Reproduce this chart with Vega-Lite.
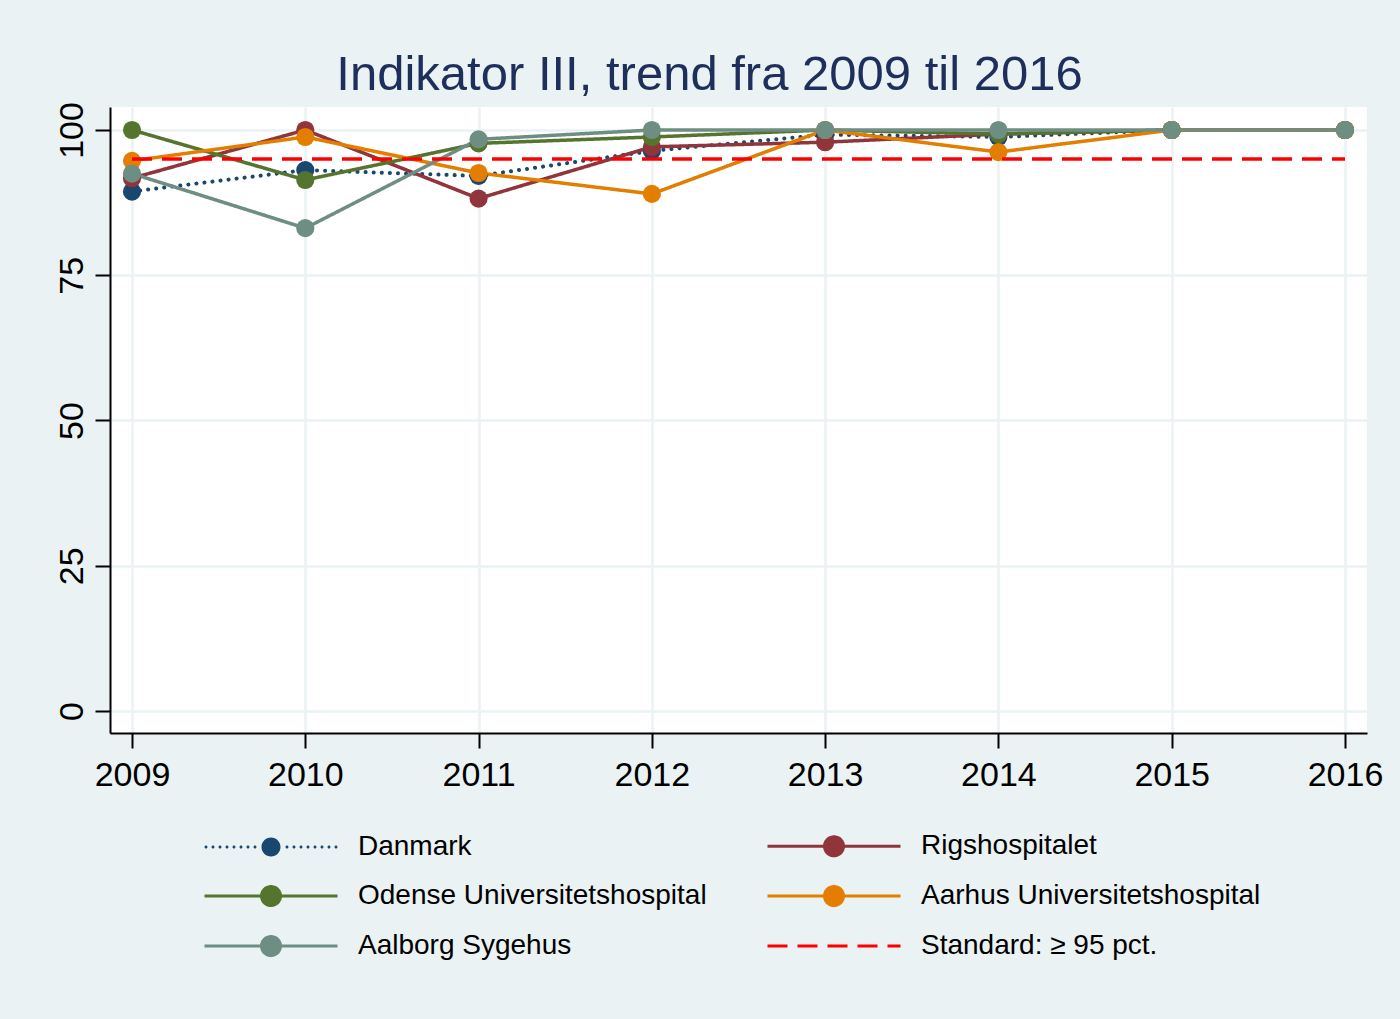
{
  "$schema": "https://vega.github.io/schema/vega-lite/v6.json",
  "width": 1257,
  "height": 626,
  "autosize": {"type": "none"},
  "padding": {"left": 110, "top": 107, "right": 33, "bottom": 286},
  "background": "#EAF2F3",
  "config": {
    "view": {"fill": "white", "stroke": null},
    "font": "Liberation Sans"
  },
  "title": {
    "text": "Indikator III, trend fra 2009 til 2016",
    "font": "Liberation Sans",
    "fontSize": 49,
    "fontWeight": "normal",
    "color": "#1f2f5c",
    "anchor": "middle",
    "dx": -29,
    "offset": 2
  },
  "data": {
    "values": [
      {"year": 2009, "pct": 89.4, "series": "Danmark"},
      {"year": 2010, "pct": 93.1, "series": "Danmark"},
      {"year": 2011, "pct": 92.1, "series": "Danmark"},
      {"year": 2012, "pct": 96.4, "series": "Danmark"},
      {"year": 2013, "pct": 99.2, "series": "Danmark"},
      {"year": 2014, "pct": 98.8, "series": "Danmark"},
      {"year": 2015, "pct": 100, "series": "Danmark"},
      {"year": 2016, "pct": 100, "series": "Danmark"},
      {"year": 2009, "pct": 91.7, "series": "Rigshospitalet"},
      {"year": 2010, "pct": 100, "series": "Rigshospitalet"},
      {"year": 2011, "pct": 88.2, "series": "Rigshospitalet"},
      {"year": 2012, "pct": 97.1, "series": "Rigshospitalet"},
      {"year": 2013, "pct": 97.9, "series": "Rigshospitalet"},
      {"year": 2014, "pct": 99.3, "series": "Rigshospitalet"},
      {"year": 2015, "pct": 100, "series": "Rigshospitalet"},
      {"year": 2016, "pct": 100, "series": "Rigshospitalet"},
      {"year": 2009, "pct": 100, "series": "Odense Universitetshospital"},
      {"year": 2010, "pct": 91.4, "series": "Odense Universitetshospital"},
      {"year": 2011, "pct": 97.7, "series": "Odense Universitetshospital"},
      {"year": 2012, "pct": 98.8, "series": "Odense Universitetshospital"},
      {"year": 2013, "pct": 100, "series": "Odense Universitetshospital"},
      {"year": 2014, "pct": 99.3, "series": "Odense Universitetshospital"},
      {"year": 2015, "pct": 100, "series": "Odense Universitetshospital"},
      {"year": 2016, "pct": 100, "series": "Odense Universitetshospital"},
      {"year": 2009, "pct": 94.7, "series": "Aarhus Universitetshospital"},
      {"year": 2010, "pct": 98.8, "series": "Aarhus Universitetshospital"},
      {"year": 2011, "pct": 92.6, "series": "Aarhus Universitetshospital"},
      {"year": 2012, "pct": 89.0, "series": "Aarhus Universitetshospital"},
      {"year": 2013, "pct": 100, "series": "Aarhus Universitetshospital"},
      {"year": 2014, "pct": 96.2, "series": "Aarhus Universitetshospital"},
      {"year": 2015, "pct": 100, "series": "Aarhus Universitetshospital"},
      {"year": 2016, "pct": 100, "series": "Aarhus Universitetshospital"},
      {"year": 2009, "pct": 92.5, "series": "Aalborg Sygehus"},
      {"year": 2010, "pct": 83.1, "series": "Aalborg Sygehus"},
      {"year": 2011, "pct": 98.4, "series": "Aalborg Sygehus"},
      {"year": 2012, "pct": 100, "series": "Aalborg Sygehus"},
      {"year": 2013, "pct": 100, "series": "Aalborg Sygehus"},
      {"year": 2014, "pct": 100, "series": "Aalborg Sygehus"},
      {"year": 2015, "pct": 100, "series": "Aalborg Sygehus"},
      {"year": 2016, "pct": 100, "series": "Aalborg Sygehus"},
      {"year": 2009, "pct": 95, "series": "Standard: ≥ 95 pct."},
      {"year": 2016, "pct": 95, "series": "Standard: ≥ 95 pct."}
    ]
  },
  "encoding": {
    "x": {
      "field": "year",
      "type": "quantitative",
      "scale": {"domain": [2008.873, 2016.127], "nice": false, "zero": false},
      "axis": {
        "title": null,
        "values": [2009, 2010, 2011, 2012, 2013, 2014, 2015, 2016],
        "format": "d",
        "labelFont": "Liberation Sans",
        "labelFontSize": 34,
        "labelColor": "black",
        "labelPadding": 10,
        "tickSize": 15,
        "tickWidth": 2,
        "tickColor": "black",
        "domainColor": "black",
        "domainWidth": 2,
        "grid": true,
        "gridColor": "#EAF2F3",
        "gridWidth": 2.5,
        "labelFlush": false,
        "labelOverlap": false
      }
    },
    "y": {
      "field": "pct",
      "type": "quantitative",
      "scale": {"domain": [-3.79, 103.96], "nice": false, "zero": false},
      "axis": {
        "title": null,
        "values": [0, 25, 50, 75, 100],
        "labelFont": "Liberation Sans",
        "labelFontSize": 34,
        "labelColor": "black",
        "labelAngle": 270,
        "labelAlign": "center",
        "labelBaseline": "alphabetic",
        "labelPadding": 13,
        "tickSize": 15,
        "tickWidth": 2,
        "tickColor": "black",
        "domainColor": "black",
        "domainWidth": 2,
        "grid": true,
        "gridColor": "#EAF2F3",
        "gridWidth": 2.5,
        "labelFlush": false,
        "labelOverlap": false
      }
    },
    "color": {
      "field": "series",
      "type": "nominal",
      "scale": {
        "domain": ["Danmark", "Odense Universitetshospital", "Aalborg Sygehus", "Rigshospitalet", "Aarhus Universitetshospital", "Standard: ≥ 95 pct."],
        "range": ["#1a476f", "#55752f", "#6e8e84", "#90353b", "#e37e00", "#ff0000"]
      },
      "legend": {
        "title": null,
        "orient": "none",
        "legendX": 147,
        "legendY": 725,
        "columns": 2,
        "columnPadding": 54,
        "rowPadding": 18,
        "padding": 0,
        "labelFont": "Liberation Sans",
        "labelFontSize": 28,
        "labelColor": "black",
        "labelOffset": 73,
        "labelLimit": 600,
        "symbolSize": 1600,
        "symbolStrokeWidth": 3,
        "symbolOpacity": 1,
        "encode": {
          "symbols": {
            "update": {
              "shape": {"signal": "datum.value === 'Standard: ≥ 95 pct.' ? 'M-3.325,0L3.325,0' : (datum.value === 'Danmark' ? 'M0.475,0A0.475,0.475,0,1,1,-0.475,0A0.475,0.475,0,1,1,0.475,0ZM-3.175,0A0.075,0.075,0,1,1,-3.325,0A0.075,0.075,0,1,1,-3.175,0ZM-2.825,0A0.075,0.075,0,1,1,-2.975,0A0.075,0.075,0,1,1,-2.825,0ZM-2.475,0A0.075,0.075,0,1,1,-2.625,0A0.075,0.075,0,1,1,-2.475,0ZM-2.125,0A0.075,0.075,0,1,1,-2.275,0A0.075,0.075,0,1,1,-2.125,0ZM-1.775,0A0.075,0.075,0,1,1,-1.925,0A0.075,0.075,0,1,1,-1.775,0ZM-1.425,0A0.075,0.075,0,1,1,-1.575,0A0.075,0.075,0,1,1,-1.425,0ZM-1.075,0A0.075,0.075,0,1,1,-1.225,0A0.075,0.075,0,1,1,-1.075,0ZM-0.725,0A0.075,0.075,0,1,1,-0.875,0A0.075,0.075,0,1,1,-0.725,0ZM0.875,0A0.075,0.075,0,1,1,0.725,0A0.075,0.075,0,1,1,0.875,0ZM1.225,0A0.075,0.075,0,1,1,1.075,0A0.075,0.075,0,1,1,1.225,0ZM1.575,0A0.075,0.075,0,1,1,1.425,0A0.075,0.075,0,1,1,1.575,0ZM1.925,0A0.075,0.075,0,1,1,1.775,0A0.075,0.075,0,1,1,1.925,0ZM2.275,0A0.075,0.075,0,1,1,2.125,0A0.075,0.075,0,1,1,2.275,0ZM2.625,0A0.075,0.075,0,1,1,2.475,0A0.075,0.075,0,1,1,2.625,0ZM2.975,0A0.075,0.075,0,1,1,2.825,0A0.075,0.075,0,1,1,2.975,0ZM3.325,0A0.075,0.075,0,1,1,3.175,0A0.075,0.075,0,1,1,3.325,0Z' : 'M-3.325,0L3.325,0M0.475,0A0.475,0.475,0,1,1,-0.475,0A0.475,0.475,0,1,1,0.475,0Z')"},
              "fill": {"scale": "color", "field": "value"},
              "stroke": {"scale": "color", "field": "value"},
              "strokeDash": {"signal": "datum.value === 'Standard: ≥ 95 pct.' ? [20,10] : [1,0]"},
              "strokeWidth": {"signal": "datum.value === 'Danmark' ? 0 : 3"},
              "opacity": {"value": 1},
              "fillOpacity": {"value": 1}
            }
          }
        }
      }
    }
  },
  "layer": [
    {
      "transform": [{"filter": "datum.series !== 'Standard: ≥ 95 pct.'"}],
      "mark": {"type": "line", "strokeCap": "round"},
      "encoding": {
        "strokeDash": {
          "field": "series",
          "type": "nominal",
          "scale": {
            "domain": ["Danmark", "Odense Universitetshospital", "Aalborg Sygehus", "Rigshospitalet", "Aarhus Universitetshospital", "Standard: ≥ 95 pct."],
            "range": [[0.1, 8], [1, 0], [1, 0], [1, 0], [1, 0], [20, 10]]
          },
          "legend": null
        },
        "strokeWidth": {"condition": {"test": "datum.series === 'Danmark'", "value": 4}, "value": 3.5}
      }
    },
    {
      "transform": [{"filter": "datum.series !== 'Standard: ≥ 95 pct.'"}],
      "mark": {"type": "point", "filled": true, "size": 330, "opacity": 1, "shape": "circle"}
    },
    {
      "transform": [{"filter": "datum.series === 'Standard: ≥ 95 pct.'"}],
      "mark": {"type": "line", "strokeWidth": 3.5, "strokeDash": [20, 10]}
    }
  ]
}
